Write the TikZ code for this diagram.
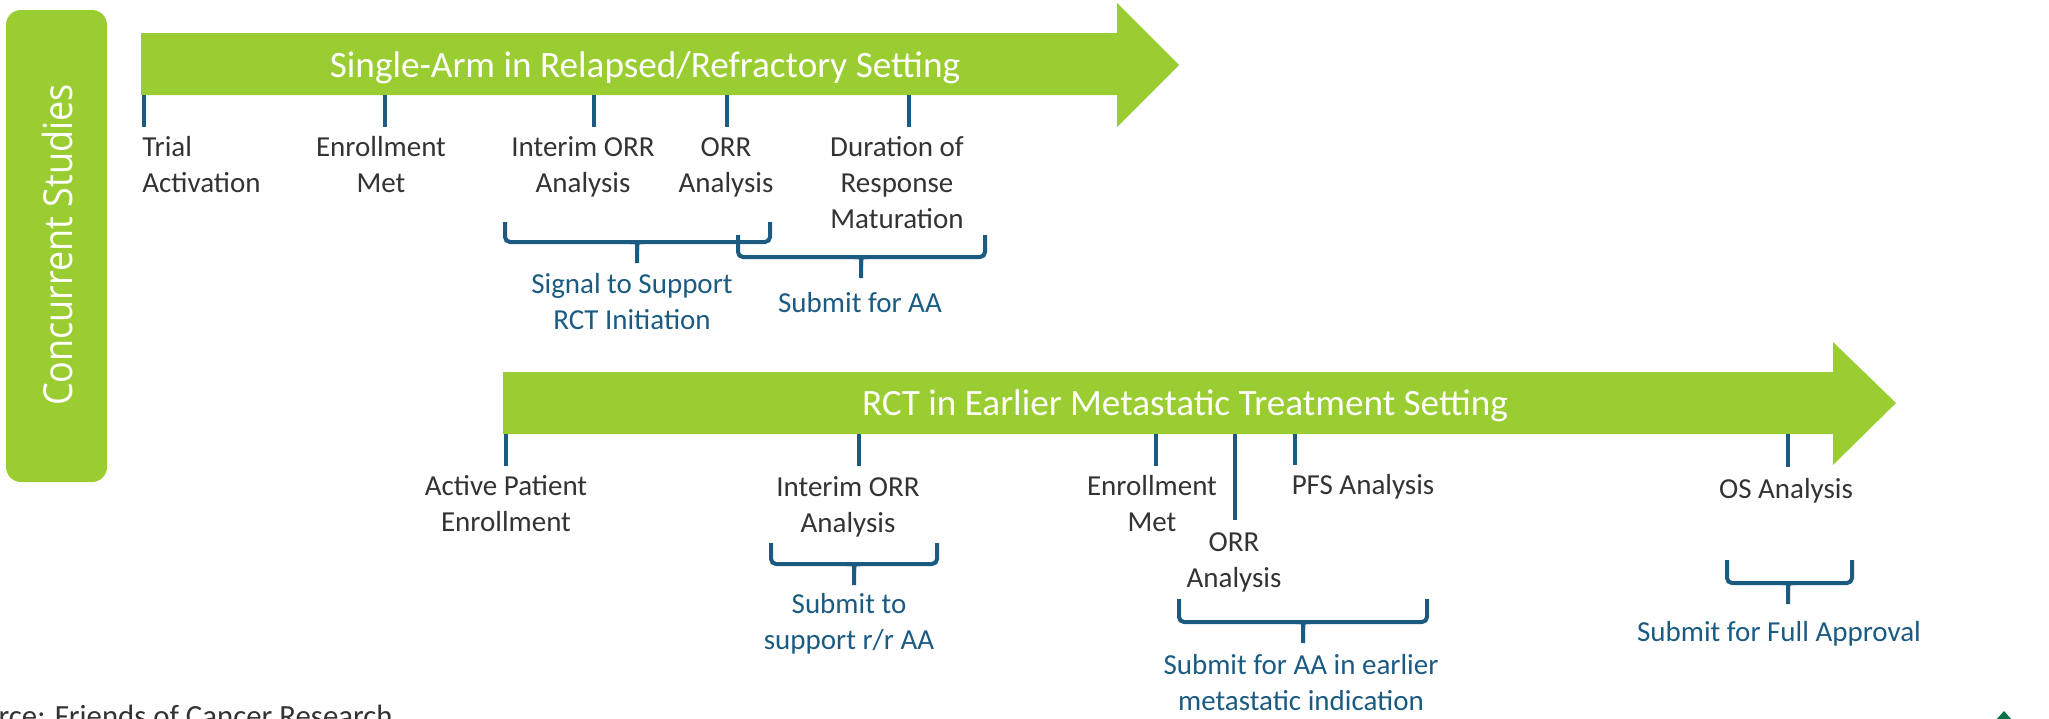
\documentclass[tikz,border=0pt]{standalone}
\usepackage{fontspec}
\setmainfont{Carlito}
\newfontfamily\sidefont[FakeStretch=0.9]{Open Sans}
\definecolor{armgreen}{HTML}{9ACD32}
\definecolor{markblue}{HTML}{1B5B82}
\definecolor{labelgray}{HTML}{333333}
\definecolor{logogreen}{HTML}{0B7048}

% brace under a group of milestones: left, right, top, level, middle
\newcommand{\filingbrace}[5]{%
  \draw[bracket] (#1,#3) -- (#1,#4) -- (#2,#4) -- (#2,#3);
  \draw[bracket] (#5-7,#4) .. controls (#5,#4) .. (#5,#4+8) -- (#5,#4+21);
  \draw[bracket] (#5+7,#4) .. controls (#5,#4) .. (#5,#4+8);
}

\begin{document}
\begin{tikzpicture}[x=0.5pt,y=-0.5pt,
    milestone/.style={align=center,anchor=base,inner sep=0pt,text=labelgray,
      font=\fontsize{14.5}{18}\selectfont},
    filing/.style={align=center,anchor=base,inner sep=0pt,text=markblue,
      font=\fontsize{14.5}{18}\selectfont},
    phase/.style={anchor=base,inner sep=0pt,text=white,
      font=\fontsize{18.6}{22}\selectfont},
    tickline/.style={draw=markblue,line width=2pt},
    bracket/.style={draw=markblue,line width=2pt,rounded corners=2.5pt}]
    \useasboundingbox (0,0) rectangle (2049,718);

    % side label
    \fill[armgreen,rounded corners=7.5pt] (6,10) rectangle (107,482);
    \node[rotate=90,anchor=base,inner sep=0pt,text=white,
      font=\sidefont\fontsize{20}{24}\selectfont] (side) at (72,245) {Concurrent Studies};

    % single-arm study (anchor = baseline of the last line)
    \fill[armgreen] (141,33) -- (1117,33) -- (1117,3) -- (1179,65)
      -- (1117,127) -- (1117,95) -- (141,95) -- cycle;
    \node[phase] (sa) at (645,77) {Single-Arm in Relapsed/Refractory Setting};
    \foreach \x in {144,385,594,727,909}
      \draw[tickline] (\x,95) -- (\x,127);
    \node[milestone,anchor=base west,align=left] (sa-act) at (142,192) {Trial\\Activation};
    \node[milestone] (sa-enr) at (381,192) {Enrollment\\Met};
    \node[milestone] (sa-int) at (583,192) {Interim ORR\\Analysis};
    \node[milestone] (sa-orr) at (726,192) {ORR\\Analysis};
    \node[milestone] (sa-dor) at (897,228) {Duration of\\Response\\Maturation};
    \filingbrace{505}{770}{222}{242}{637}
    \filingbrace{738}{985}{235}{257}{861}
    \node[filing] (sa-sig) at (632,329) {Signal to Support\\RCT Initiation};
    \node[filing] (sa-aa) at (860,312) {Submit for AA};

    % randomized study
    \fill[armgreen] (503,372) -- (1833,372) -- (1833,342) -- (1896,403)
      -- (1833,465) -- (1833,434) -- (503,434) -- cycle;
    \node[phase] (rct) at (1185,415) {RCT in Earlier Metastatic Treatment Setting};
    \foreach \x/\y in {506/466,859/466,1156/466,1235/520,1295/465,1788/467}
      \draw[tickline] (\x,434) -- (\x,\y);
    \node[milestone] (rct-act) at (506,531) {Active Patient\\Enrollment};
    \node[milestone] (rct-int) at (848,532) {Interim ORR\\Analysis};
    \node[milestone] (rct-enr) at (1152,531) {Enrollment\\Met};
    \node[milestone] (rct-orr) at (1234,587) {ORR\\Analysis};
    \node[milestone] (rct-pfs) at (1363,494) {PFS Analysis};
    \node[milestone] (rct-os) at (1786,498) {OS Analysis};
    \filingbrace{771}{937}{543}{564}{854}
    \filingbrace{1179}{1427}{599}{622}{1303}
    \filingbrace{1727}{1852}{560}{583}{1788}
    \node[filing] (rct-rr) at (849,649) {Submit to\\support r/r AA};
    \node[filing] (rct-aa) at (1301,710) {Submit for AA in earlier\\metastatic indication};
    \node[filing] (rct-full) at (1779,641) {Submit for Full Approval};

    % footer
    \node[anchor=base east,inner sep=0pt,text=labelgray,
      font=\fontsize{15.4}{18}\selectfont] (src) at (393,726) {Source: Friends of Cancer Research};
    \fill[logogreen] (1996,720) -- (2004,711) -- (2012,720) -- cycle;
  \end{tikzpicture}
\end{document}
